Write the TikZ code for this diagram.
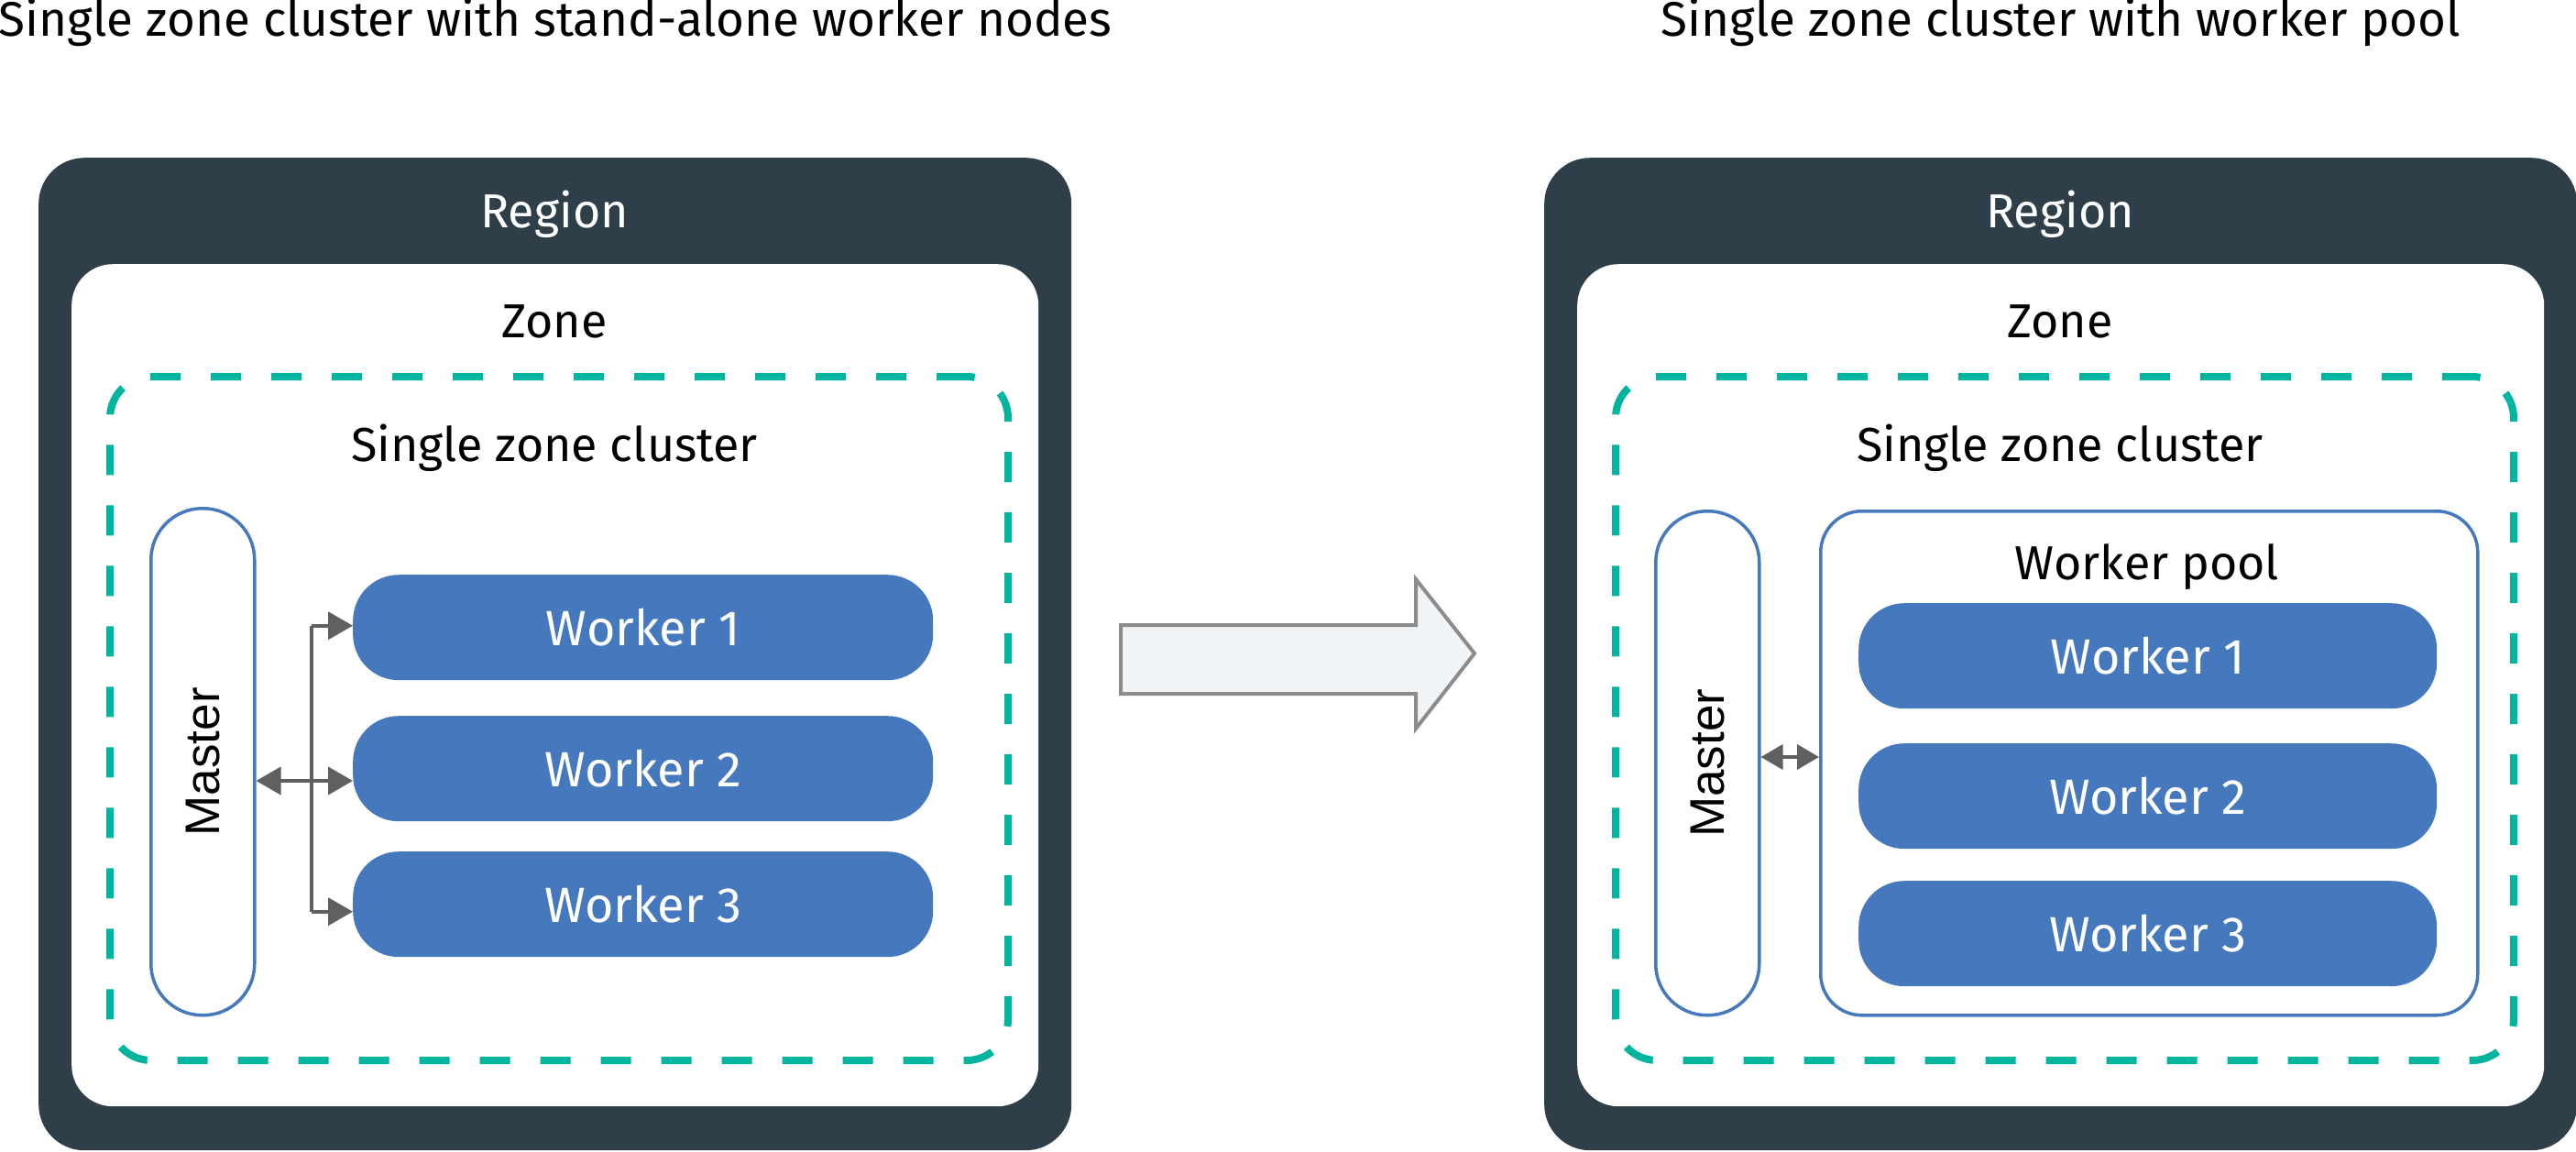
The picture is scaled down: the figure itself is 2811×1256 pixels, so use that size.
\documentclass[tikz,border=0pt]{standalone}
\usepackage{fontspec}
\setmainfont{Fira Sans}
\newfontfamily\masterfont{Liberation Sans}
\usetikzlibrary{arrows.meta}
\definecolor{regcol}{RGB}{46,63,74}
\definecolor{teal}{RGB}{0,181,160}
\definecolor{wblue}{RGB}{69,120,188}
\definecolor{agray}{RGB}{95,96,98}
\definecolor{bigfill}{RGB}{240,244,247}
\definecolor{bigline}{RGB}{140,140,140}
\tikzset{
  region/.style={fill=regcol, rounded corners=50pt, inner sep=0pt, anchor=north west},
  zone/.style={fill=white, rounded corners=45pt, inner sep=0pt, anchor=north west},
  cluster/.style={draw=teal, line width=8pt, dash pattern=on 33pt off 33pt, rounded corners=45pt, inner sep=0pt, anchor=north west},
  masterbox/.style={draw=wblue, line width=3.5pt, fill=white, rounded corners=56pt, inner sep=0pt, anchor=north west, minimum width=113pt},
  poolbox/.style={draw=wblue, line width=3.5pt, fill=white, rounded corners=45pt, inner sep=0pt, anchor=north west},
  worker/.style={fill=wblue, rounded corners=50pt, inner sep=0pt, text=white, font=\fontsize{54}{62}\selectfont, minimum height=115pt, minimum width=633pt},
  title/.style={font=\fontsize{53}{60}\selectfont, inner sep=0pt, anchor=base},
  lbl/.style={font=\fontsize{52}{60}\selectfont, inner sep=0pt, anchor=base},
  mlbl/.style={font=\masterfont\fontsize{53}{60}\selectfont, inner sep=0pt, rotate=90},
  link/.style={draw=agray, line width=4pt},
  tipA/.style={-{Triangle[length=27pt,width=30pt]}},
  tipAB/.style={{Triangle[length=27pt,width=30pt]}-{Triangle[length=27pt,width=30pt]}},
  tipS/.style={{Triangle[length=24pt,width=27pt]}-{Triangle[length=24pt,width=27pt]}},
}
\begin{document}
\begin{tikzpicture}[x=1pt,y=-1pt]
\useasboundingbox (0,0) rectangle (2811,1256);
% ---------------- left panel ----------------
\node[title] (t1) at (606,39) {Single zone cluster with stand-alone worker nodes};
\node[region, minimum width=1127pt, minimum height=1083pt] (r1) at (42,172) {};
\node[lbl, text=white] (r1l) at (605,248) {Region};
\node[zone, minimum width=1055pt, minimum height=919pt] (z1) at (78,288) {};
\node[lbl] (z1l) at (605,368) {Zone};
\node[cluster, minimum width=980pt, minimum height=746pt] (c1) at (116,407) {};
\node[lbl] (c1l) at (605,503) {Single zone cluster};
\node[masterbox, minimum height=553pt] (m1) at (163,553) {};
\node[mlbl] (m1l) at (m1.center) {Master};
\node[worker, anchor=north west] (w11) at (385,627) {Worker 1};
\node[worker, anchor=north west] (w12) at (385,781) {Worker 2};
\node[worker, anchor=north west] (w13) at (385,929) {Worker 3};
\coordinate (j1) at (340,852);
\draw[link, tipAB] (m1.east |- j1) -- (w12.west |- j1);
\draw[link, tipA] ([yshift=2pt]w11.west -| j1) -- ([yshift=2pt]w11.west);
\draw[link] ([yshift=2pt]w11.west -| j1) -- ([yshift=-8pt]w13.west -| j1);
\draw[link, tipA] ([yshift=-8pt]w13.west -| j1) -- ([yshift=-8pt]w13.west);
% ---------------- big arrow ----------------
\draw[draw=bigline, fill=bigfill, line width=4pt, line join=miter]
  (1223,682) -- (1545,682) -- (1545,632) -- (1609,713) -- (1545,795) -- (1545,757) -- (1223,757) -- cycle;
% ---------------- right panel ----------------
\node[title] (t2) at (2249,39) {Single zone cluster with worker pool};
\node[region, minimum width=1127pt, minimum height=1083pt] (r2) at (1685,172) {};
\node[lbl, text=white] (r2l) at (2248,248) {Region};
\node[zone, minimum width=1055pt, minimum height=919pt] (z2) at (1721,288) {};
\node[lbl] (z2l) at (2248,368) {Zone};
\node[cluster, minimum width=980pt, minimum height=746pt] (c2) at (1759,407) {};
\node[lbl] (c2l) at (2248,503) {Single zone cluster};
\node[masterbox, minimum height=550pt] (m2) at (1805,556) {};
\node[mlbl] (m2l) at (m2.center) {Master};
\node[poolbox, minimum width=717pt, minimum height=550pt] (p2) at (1985,556) {};
\node[lbl] (p2l) at (2343,632) {Worker pool};
\node[worker, anchor=north west, minimum width=631pt] (w21) at (2028,658) {Worker 1};
\node[worker, anchor=north west, minimum width=631pt] (w22) at (2028,811) {Worker 2};
\node[worker, anchor=north west, minimum width=631pt] (w23) at (2028,961) {Worker 3};
\coordinate (j2) at (1950,826);
\draw[link, tipS] (m2.east |- j2) -- (p2.west |- j2);
\end{tikzpicture}
\end{document}
